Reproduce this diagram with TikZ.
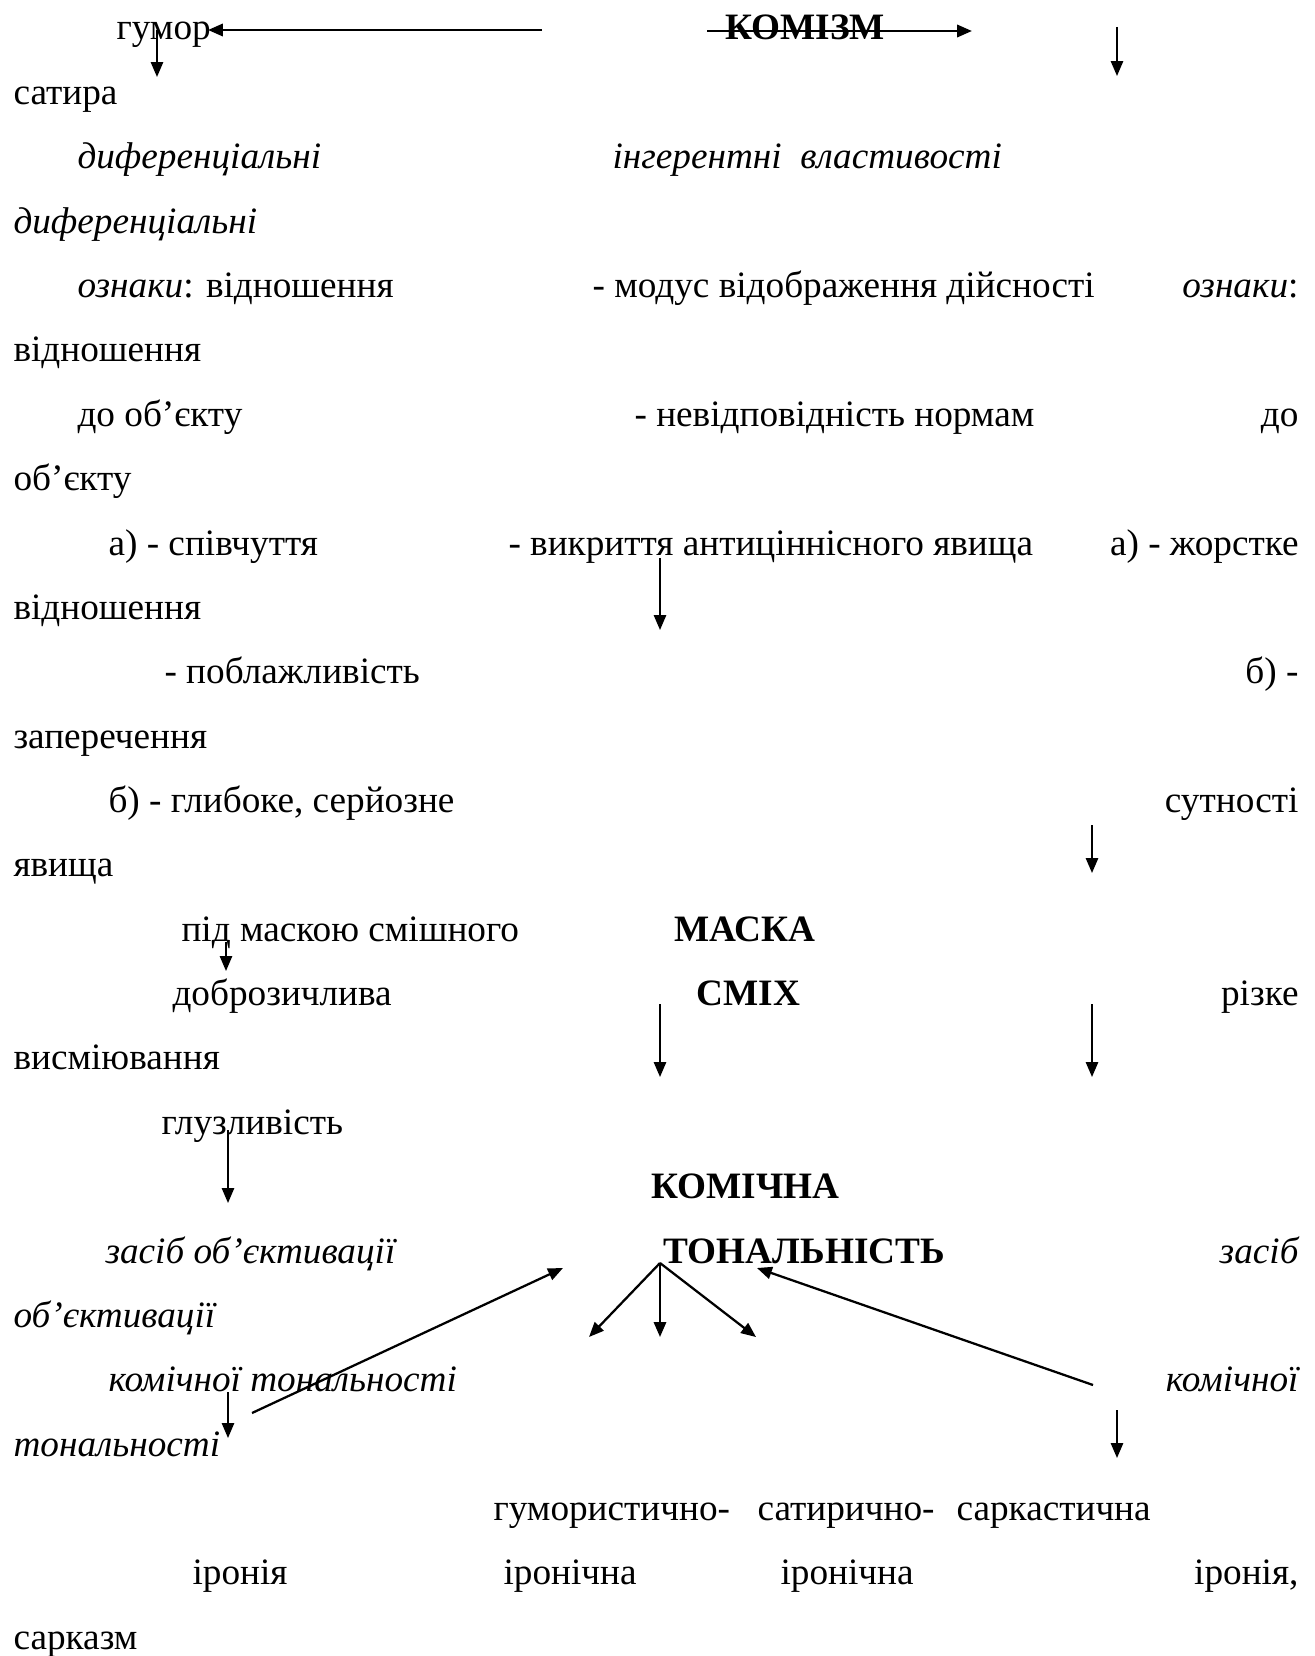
\documentclass[tikz,border=0pt]{standalone}
\usepackage{fontspec}
\setmainfont{Liberation Serif}
\usetikzlibrary{arrows.meta}
\newcommand{\fs}{\fontsize{14}{16.8}\selectfont}

\begin{document}
\begin{tikzpicture}[x=0.01322cm, y=-0.01322cm,
  >={Triangle[length=5.6pt,width=4.6pt]},
  tx/.style={anchor=base west,inner sep=0pt,font=\fs},
  tr/.style={anchor=base east,inner sep=0pt,font=\fs},
  ti/.style={tx,font=\fs\itshape},
  tri/.style={tr,font=\fs\itshape},
  tb/.style={tx,font=\fs\bfseries},
  ar/.style={->,line width=0.7pt},
  art/.style={->,line width=1pt}]
  \useasboundingbox (0,0) rectangle (1314,1656);
  %--- top lines ---
  \node[tx] (humor) at (116,40) {гумор};
  \node[tb] (komizm) at (725,40) {КОМІЗМ};
  \node[tx] (satyra) at (13,104.4) {сатира};
  %--- features ---
  \node[ti] (dyf1) at (77,168.7) {диференціальні};
  \node[ti] (inher) at (612,168.7) {інгерентні\ \ властивості};
  \node[ti] (dyf2) at (13,233.1) {диференціальні};
  \node[tx] (ozn1) at (77,297.5) {\textit{ознаки}: відношення};
  \node[tx] (modus) at (592,297.5) {- модус відображення дійсності};
  \node[tr] (ozn2) at (1299,297.5) {\textit{ознаки}:};
  \node[tx] (vidn1) at (13,361.9) {відношення};
  \node[tx] (doob1) at (77,426.2) {до об’єкту};
  \node[tx] (nevid) at (634,426.2) {- невідповідність нормам};
  \node[tr] (do2) at (1299,426.2) {до};
  \node[tx] (obj2) at (13,490.6) {об’єкту};
  \node[tx] (spivch) at (108,555) {а) - співчуття};
  \node[tx] (vykr) at (508,555) {- викриття антиціннісного явища};
  \node[tr] (zhorst) at (1299,555) {а) - жорстке};
  \node[tx] (vidn2) at (13,619.3) {відношення};
  \node[tx] (pobl) at (164,683.7) {- поблажливість};
  \node[tr] (bneg) at (1299,683.7) {б) -};
  \node[tx] (zaper) at (13,748.1) {заперечення};
  \node[tx] (hlyb) at (108,812.4) {б) - глибоке, серйозне};
  \node[tr] (sutn) at (1299,812.4) {сутності};
  \node[tx] (yavy) at (13,876.8) {явища};
  %--- mask / laughter ---
  \node[tx] (pidm) at (181,941.2) {під маскою смішного};
  \node[tb] (maska) at (674,941.2) {МАСКА};
  \node[tx] (dobr) at (172,1005.6) {доброзичлива};
  \node[tb] (smikh) at (696,1005.6) {СМІХ};
  \node[tr] (rizke) at (1299,1005.6) {різке};
  \node[tx] (vysm) at (13,1069.9) {висміювання};
  \node[tx] (hluz) at (161,1134.3) {глузливість};
  \node[tb] (komch) at (651,1198.7) {КОМІЧНА};
  \node[ti] (zas1) at (105,1263) {засіб об’єктивації};
  \node[tb] (tonal) at (663,1263) {ТОНАЛЬНІСТЬ};
  \node[tri] (zas2) at (1299,1263) {засіб};
  \node[ti] (obj3) at (13,1327.4) {об’єктивації};
  \node[ti] (kt1) at (108,1391.8) {комічної тональності};
  \node[tri] (kt2) at (1299,1391.8) {комічної};
  \node[ti] (ton3) at (13,1456.1) {тональності};
  %--- kinds of tonality ---
  \node[tx] (humir) at (493,1520.5) {гумористично-};
  \node[tx] (satyr) at (757,1520.5) {сатирично-};
  \node[tx] (sark) at (956,1520.5) {саркастична};
  \node[tx] (iron1) at (192,1584.9) {іронія};
  \node[tx] (ironch1) at (503,1584.9) {іронічна};
  \node[tx] (ironch2) at (780,1584.9) {іронічна};
  \node[tr] (iron2) at (1299,1584.9) {іронія,};
  \node[tx] (sarkazm) at (13,1649.3) {сарказм};
  %--- arrow ends ---
  \coordinate (hA) at (542,30);   \coordinate (hB) at (208,30);
  \coordinate (kA) at (707,31);   \coordinate (kB) at (972,31);
  \coordinate (sA) at (157,30);   \coordinate (sB) at (157,77);
  \coordinate (rA) at (1117,27);  \coordinate (rB) at (1117,76);
  \coordinate (vA) at (660,558);  \coordinate (vB) at (660,630);
  \coordinate (uA) at (1092,825); \coordinate (uB) at (1092,873);
  \coordinate (pA) at (226,942);  \coordinate (pB) at (226,971);
  \coordinate (mA) at (660,1004); \coordinate (mB) at (660,1077);
  \coordinate (zA) at (1092,1004);\coordinate (zB) at (1092,1077);
  \coordinate (gA) at (228,1130); \coordinate (gB) at (228,1203);
  \coordinate (lA) at (252,1413); \coordinate (lB) at (563,1268);
  \coordinate (xA) at (1093,1385);\coordinate (xB) at (757,1268);
  \coordinate (cA) at (228,1392); \coordinate (cB) at (228,1438);
  \coordinate (dA) at (1117,1410);\coordinate (dB) at (1117,1458);
  \coordinate (fo) at (660,1263);
  \coordinate (f1) at (589,1337);
  \coordinate (f2) at (660,1337);
  \coordinate (f3) at (756,1337);
  %--- arrows ---
  \draw[art] (hA) -- (hB);
  \draw[art] (kA) -- (kB);
  \draw[ar] (sA) -- (sB);
  \draw[ar] (rA) -- (rB);
  \draw[ar] (vA) -- (vB);
  \draw[ar] (uA) -- (uB);
  \draw[ar] (pA) -- (pB);
  \draw[ar] (mA) -- (mB);
  \draw[ar] (zA) -- (zB);
  \draw[ar] (gA) -- (gB);
  \draw[ar,line width=0.85pt] (lA) -- (lB);
  \draw[ar,line width=0.85pt] (xA) -- (xB);
  \draw[ar] (cA) -- (cB);
  \draw[ar] (dA) -- (dB);
  \foreach \f in {f1,f2,f3} \draw[ar,line width=0.85pt] (fo) -- (\f);
\end{tikzpicture}
\end{document}
